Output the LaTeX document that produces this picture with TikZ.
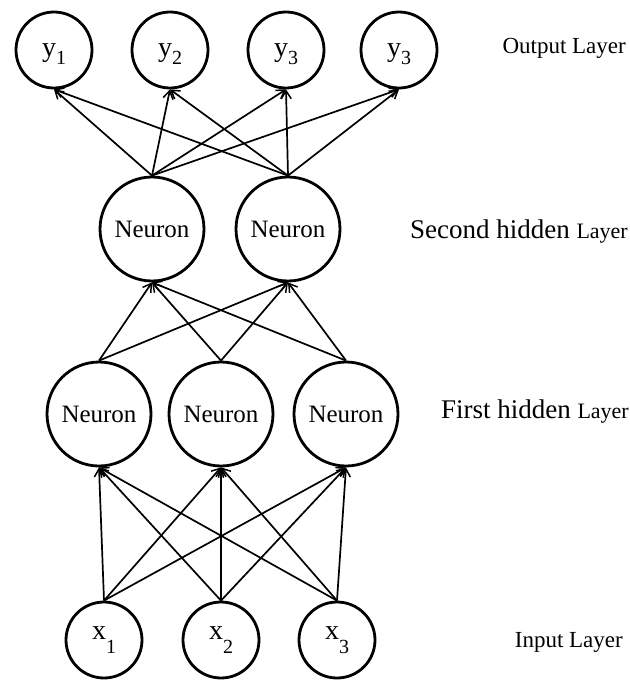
\documentclass[tikz,border=0pt]{standalone}
\usepackage{fontspec}
\setmainfont{Liberation Serif}
\usetikzlibrary{arrows.meta}
\newcommand{\ysub}[1]{\raisebox{-0.3em}{\fontsize{20}{20}\selectfont #1}}
\newcommand{\xsub}[1]{\raisebox{-0.5em}{\fontsize{20}{20}\selectfont #1}}
\begin{document}
\begin{tikzpicture}[x=1pt,y=-1pt,
  smallnode/.style={circle,draw,line width=2.8pt,minimum size=76pt,inner sep=0pt,font=\fontsize{28}{28}\selectfont},
  neuron/.style={circle,draw,line width=2.8pt,minimum size=104pt,inner sep=0pt,font=\fontsize{25}{25}\selectfont},
  conn/.style={line width=1.7pt,-{Straight Barb[length=8pt,width=10pt,line width=1.5pt]}},
  lbl/.style={anchor=base east,inner sep=0pt}]
\useasboundingbox (0,0) rectangle (630,681);
% output layer
\node[smallnode,text height=19pt,text depth=6pt] (o1) at (54,50) {y\ysub{1}};
\node[smallnode,text height=19pt,text depth=6pt] (o2) at (170,50) {y\ysub{2}};
\node[smallnode,text height=19pt,text depth=6pt] (o3) at (286,50) {y\ysub{3}};
\node[smallnode,text height=19pt,text depth=6pt] (o4) at (399,50) {y\ysub{3}};
% second hidden
\node[neuron] (s1) at (152,229) {Neuron};
\node[neuron] (s2) at (288,229) {Neuron};
% first hidden
\node[neuron] (f1) at (99,414) {Neuron};
\node[neuron] (f2) at (221,414) {Neuron};
\node[neuron] (f3) at (346,414) {Neuron};
% input
\node[smallnode] (i1) at (104,640) {x\xsub{1}};
\node[smallnode] (i2) at (221,640) {x\xsub{2}};
\node[smallnode] (i3) at (337,640) {x\xsub{3}};
% labels
\node[lbl,font=\fontsize{23}{23}\selectfont] (lo) at (626,53) {Output Layer};
\node[lbl] (ls) at (628,238) {{\fontsize{27}{27}\selectfont Second hidden }{\fontsize{22}{22}\selectfont Layer}};
\node[lbl] (lf) at (629,418) {{\fontsize{27}{27}\selectfont First hidden }{\fontsize{22}{22}\selectfont Layer}};
\node[lbl,font=\fontsize{23}{23}\selectfont] (li) at (623,647) {Input Layer};
% connections
\foreach \a in {i1,i2,i3}
  \foreach \b in {f1,f2,f3}
    \draw[conn] (\a.north) -- (\b.south);
\foreach \a in {f1,f2,f3}
  \foreach \b in {s1,s2}
    \draw[conn] (\a.north) -- (\b.south);
\foreach \a in {s1,s2}
  \foreach \b in {o1,o2,o3,o4}
    \draw[conn] (\a.north) -- (\b.south);
\end{tikzpicture}
\end{document}
